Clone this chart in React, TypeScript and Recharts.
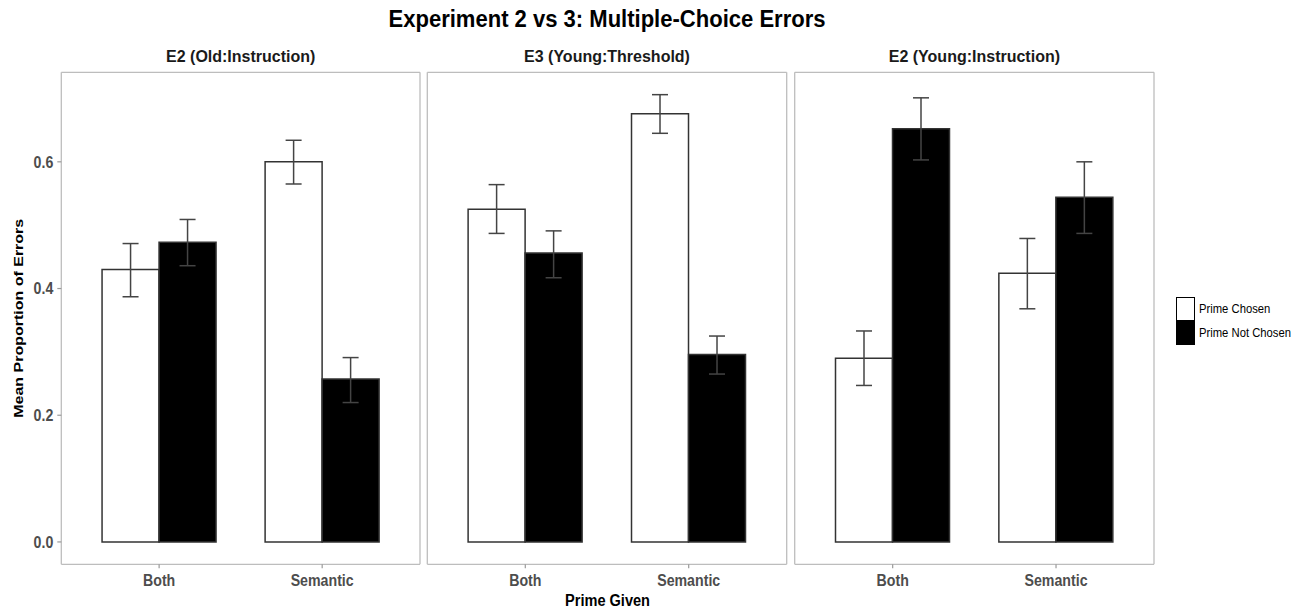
import React from 'react';
import { BarChart, Bar, XAxis, YAxis, CartesianGrid, ErrorBar, Legend } from 'recharts';

// ---------- data ----------
const primeGiven = ['Both', 'Semantic'];
const panelTitles = ['E2 (Old:Instruction)', 'E3 (Young:Threshold)', 'E2 (Young:Instruction)'];
const seriesNames = ['Prime Chosen', 'Prime Not Chosen'];
const yTicks = [0, 0.2, 0.4, 0.6];

const e2OldChosen = [0.43, 0.6];
const e2OldChosenLow = [0.387, 0.565];
const e2OldChosenHigh = [0.471, 0.634];
const e2OldNotChosen = [0.473, 0.257];
const e2OldNotChosenLow = [0.436, 0.22];
const e2OldNotChosenHigh = [0.509, 0.291];

const e3YoungChosen = [0.525, 0.676];
const e3YoungChosenLow = [0.487, 0.645];
const e3YoungChosenHigh = [0.564, 0.706];
const e3YoungNotChosen = [0.456, 0.296];
const e3YoungNotChosenLow = [0.417, 0.265];
const e3YoungNotChosenHigh = [0.491, 0.325];

const e2YoungChosen = [0.29, 0.424];
const e2YoungChosenLow = [0.247, 0.368];
const e2YoungChosenHigh = [0.333, 0.479];
const e2YoungNotChosen = [0.652, 0.544];
const e2YoungNotChosenLow = [0.603, 0.487];
const e2YoungNotChosenHigh = [0.701, 0.6];

// ---------- helpers ----------
const buildData = (
  chosen: number[], cLo: number[], cHi: number[],
  notChosen: number[], nLo: number[], nHi: number[]
) =>
  primeGiven.map((p, i) => ({
    prime: p,
    chosen: chosen[i],
    chosenErr: [chosen[i] - cLo[i], cHi[i] - chosen[i]],
    notChosen: notChosen[i],
    notChosenErr: [notChosen[i] - nLo[i], nHi[i] - notChosen[i]],
  }));

const panelData = [
  buildData(e2OldChosen, e2OldChosenLow, e2OldChosenHigh, e2OldNotChosen, e2OldNotChosenLow, e2OldNotChosenHigh),
  buildData(e3YoungChosen, e3YoungChosenLow, e3YoungChosenHigh, e3YoungNotChosen, e3YoungNotChosenLow, e3YoungNotChosenHigh),
  buildData(e2YoungChosen, e2YoungChosenLow, e2YoungChosenHigh, e2YoungNotChosen, e2YoungNotChosenLow, e2YoungNotChosenHigh),
];

const FONT = '"Liberation Sans", Arial, Helvetica, sans-serif';
const BORDER = '#bdbdbd';
const TICK_LINE = '#9a9a9a';
const H = 611;
const PLOT_TOP = 72.3;
const PLOT_BOTTOM = 564.3;
const X_AXIS_H = 30;

const panelLayout = [
  { left: 0, width: 422, mLeft: 0, mRight: 2, showY: true, legend: false, center: 240.7 },
  { left: 420, width: 370, mLeft: 7.3, mRight: 3.3, showY: false, legend: false, center: 607 },
  { left: 790, width: 521, mLeft: 4.7, mRight: 157, showY: false, legend: true, center: 974.4 },
];

const XTick = (props: any) => {
  const { x, y, payload } = props;
  return (
    <g transform={`translate(${x},${y})`}>
      <text
        x={0}
        y={0}
        dy="0.71em"
        transform="scale(0.86,1)"
        textAnchor="middle"
        fontFamily={FONT}
        fontWeight="bold"
        fontSize={16.5}
        fill="#4d4d4d"
      >
        {payload.value}
      </text>
    </g>
  );
};

const YTick = (props: any) => {
  const { x, y, payload } = props;
  return (
    <g transform={`translate(${x},${y})`}>
      <text
        x={0}
        y={0}
        dy="0.36em"
        transform="scale(0.86,1)"
        textAnchor="end"
        fontFamily={FONT}
        fontWeight="bold"
        fontSize={16.5}
        fill="#4d4d4d"
      >
        {Number(payload.value).toFixed(1)}
      </text>
    </g>
  );
};

const YLabel = (props: any) => {
  const vb = props.viewBox || { x: 0, y: PLOT_TOP, width: 0, height: PLOT_BOTTOM - PLOT_TOP };
  const cy = vb.y + vb.height / 2;
  return (
    <text
      x={0}
      y={0}
      transform={`translate(19,${cy}) rotate(-90) scale(1,0.82)`}
      textAnchor="middle"
      dominantBaseline="central"
      fontFamily={FONT}
      fontWeight="bold"
      fontSize={16}
      fill="#000"
    >
      Mean Proportion of Errors
    </text>
  );
};

const LegendContent = (props: any) => {
  const payload = props.payload || [];
  return (
    <div style={{ display: 'flex', flexDirection: 'column' }}>
      {payload.map((e: any, i: number) => (
        <div key={i} style={{ display: 'flex', alignItems: 'center', height: 23.7 }}>
          <div
            style={{
              width: 19.3,
              height: 23.7,
              boxSizing: 'border-box',
              border: '1.3px solid #000',
              background: e.color,
            }}
          />
          <span
            style={{
              marginLeft: 4,
              fontSize: 12.5,
              fontFamily: FONT,
              color: '#000',
              whiteSpace: 'nowrap',
              display: 'inline-block',
              transform: 'scaleX(0.9)',
              transformOrigin: 'left center',
            }}
          >
            {e.value}
          </span>
        </div>
      ))}
    </div>
  );
};

const Panel = ({ idx }: { idx: number }) => {
  const L = panelLayout[idx];
  const data = panelData[idx];
  return (
    <div style={{ position: 'absolute', left: L.left, top: 0, width: L.width, height: H }}>
      <BarChart
        width={L.width}
        height={H}
        data={data}
        margin={{ top: PLOT_TOP, right: L.mRight, bottom: H - PLOT_BOTTOM - X_AXIS_H, left: L.mLeft }}
        barCategoryGap="15%"
        barGap={0}
      >
        <CartesianGrid
          stroke={BORDER}
          strokeWidth={1.3}
          fill="none"
          horizontalCoordinatesGenerator={(p: any) => [p.offset.top, p.offset.top + p.offset.height]}
          verticalCoordinatesGenerator={(p: any) => [p.offset.left, p.offset.left + p.offset.width]}
        />
        <XAxis
          dataKey="prime"
          type="category"
          height={X_AXIS_H}
          padding={{ left: 16.3, right: 16.3 }}
          axisLine={false}
          tickLine={{ stroke: TICK_LINE, strokeWidth: 1.2 }}
          tickSize={4}
          tickMargin={6}
          tick={<XTick />}
        />
        <YAxis
          type="number"
          domain={[-0.0353, 0.7413]}
          allowDataOverflow
          ticks={yTicks}
          hide={!L.showY}
          width={61.3}
          axisLine={false}
          tickLine={{ stroke: TICK_LINE, strokeWidth: 1.2 }}
          tickSize={4}
          tickMargin={4}
          tick={<YTick />}
          label={L.showY ? <YLabel /> : undefined}
        />
        <Bar
          dataKey="chosen"
          name={seriesNames[0]}
          fill="#ffffff"
          stroke="#333333"
          strokeWidth={1.5}
          isAnimationActive={false}
        >
          <ErrorBar dataKey="chosenErr" width={8} stroke="#444444" strokeWidth={1.5} direction="y" />
        </Bar>
        <Bar
          dataKey="notChosen"
          name={seriesNames[1]}
          fill="#000000"
          stroke="#333333"
          strokeWidth={1.5}
          isAnimationActive={false}
        >
          <ErrorBar dataKey="notChosenErr" width={8} stroke="#444444" strokeWidth={1.5} direction="y" />
        </Bar>
        {L.legend && (
          <Legend
            layout="horizontal"
            align="center"
            verticalAlign="middle"
            content={<LegendContent />}
            wrapperStyle={{ left: 385.7, top: 297.3, width: 130, height: 48 }}
          />
        )}
      </BarChart>
    </div>
  );
};

export default function App() {
  return (
    <div
      style={{
        position: 'absolute',
        left: 0,
        top: 0,
        width: 1311,
        height: H,
        background: '#ffffff',
        fontFamily: FONT,
      }}
    >
      <svg
        width={1311}
        height={H}
        style={{ position: 'absolute', left: 0, top: 0, pointerEvents: 'none' }}
      >
        <text
          x={607}
          y={27}
          textAnchor="middle"
          fontFamily={FONT}
          fontWeight="bold"
          fontSize={23}
          fill="#000"
          textLength={437}
          lengthAdjust="spacingAndGlyphs"
        >
          Experiment 2 vs 3: Multiple-Choice Errors
        </text>
        {panelTitles.map((t, i) => (
          <text
            key={t}
            x={panelLayout[i].center}
            y={62}
            textAnchor="middle"
            fontFamily={FONT}
            fontWeight="bold"
            fontSize={16}
            fill="#1a1a1a"
          >
            {t}
          </text>
        ))}
        <text
          x={607.5}
          y={606}
          textAnchor="middle"
          fontFamily={FONT}
          fontWeight="bold"
          fontSize={16}
          fill="#000"
          textLength={85}
          lengthAdjust="spacingAndGlyphs"
        >
          Prime Given
        </text>
      </svg>
      {[0, 1, 2].map((i) => (
        <Panel key={i} idx={i} />
      ))}
    </div>
  );
}
